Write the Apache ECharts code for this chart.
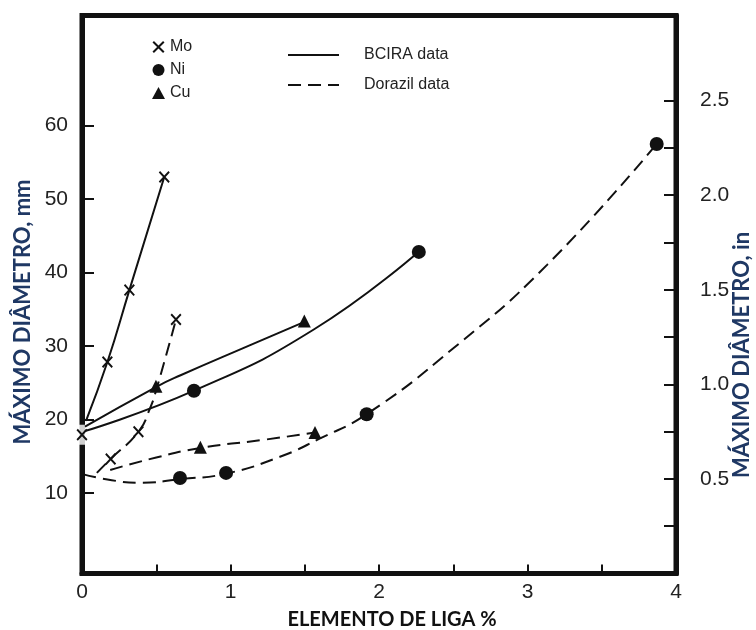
<!DOCTYPE html>
<html>
<head>
<meta charset="utf-8">
<script src="https://cdn.jsdelivr.net/npm/echarts@6/dist/echarts.min.js"></script>
<style>
  html, body { margin: 0; padding: 0; background: #ffffff; }
  #chart { width: 756px; height: 630px; }
</style>
</head>
<body>
<div id="chart"></div>
<script>
// ---------------- DATA ----------------
// Marker points (alloying element %, maximum diameter mm)
const moBaseX = [0];
const moBaseY = [17.9];
const moBciraX = [0.171, 0.319, 0.554];
const moBciraY = [27.8, 37.6, 53.0];
const moDorazilX = [0.193, 0.38, 0.633];
const moDorazilY = [14.6, 18.3, 33.6];
const niBciraX = [0.754, 2.268];
const niBciraY = [23.9, 42.8];
const niDorazilX = [0.66, 0.97, 1.917, 3.87];
const niDorazilY = [12.0, 12.7, 20.7, 57.5];
const cuBciraX = [0.498, 1.497];
const cuBciraY = [24.5, 33.4];
const cuDorazilX = [0.797, 1.569];
const cuDorazilY = [16.2, 18.2];

// Fitted curves
const moBciraCurveX = [0.027, 0.171, 0.319, 0.554];
const moBciraCurveY = [19.8, 27.8, 37.6, 53.0];
const cuBciraCurveX = [0.02, 0.498, 0.664, 1.109, 1.49];
const cuBciraCurveY = [19.0, 24.4, 26.0, 29.9, 33.2];
const niBciraCurveX = [0.02, 0.754, 1.558, 2.265];
const niBciraCurveY = [18.4, 23.9, 32.2, 42.8];
const moDorazilCurveX = [0.1, 0.193, 0.38, 0.458, 0.5, 0.633];
const moDorazilCurveY = [12.7, 14.6, 18.3, 21.5, 24.0, 33.6];
const cuDorazilCurveX = [0.19, 0.5, 0.797, 1.221, 1.569];
const cuDorazilCurveY = [13.1, 14.8, 16.1, 17.2, 18.2];
const niDorazilCurveX = [0.01, 0.2, 0.4, 0.66, 0.97, 1.333, 1.603, 1.917, 2.49, 3.13, 3.87];
const niDorazilCurveY = [12.5, 11.7, 11.35, 11.85, 12.6, 14.9, 17.4, 20.7, 29.5, 41.0, 57.5];

// Axis ticks / labels
const xTickLabels = [0, 1, 2, 3, 4];
const mmTicks = [10, 20, 30, 40, 50, 60];
const inTicks = [0.25, 0.5, 0.75, 1.0, 1.25, 1.5, 1.75, 2.0, 2.25, 2.5];
const inLabels = [0.5, 1.0, 1.5, 2.0, 2.5];

const markerNames = ['Mo', 'Ni', 'Cu'];
const sourceNames = ['BCIRA data', 'Dorazil data'];
const xTitle = 'ELEMENTO DE LIGA %';
const yTitleLeft = 'MÁXIMO DIÂMETRO, mm';
const yTitleRight = 'MÁXIMO DIÂMETRO, in';
// ------------------------------------------------------------------------

function zip(xs, ys) { return xs.map((x, i) => [x, ys[i]]); }

const X_PATH = 'path://M0,1.2L1.2,0L5,3.8L8.8,0L10,1.2L6.2,5L10,8.8L8.8,10L5,6.2L1.2,10L0,8.8L3.8,5Z';
const INK = '#111111';
const labelFont = 'Liberation Sans';

function curve(name, xs, ys, dashed) {
  return {
    name: name, type: 'line', yAxisIndex: 0,
    data: zip(xs, ys), symbol: 'none', smooth: 0.5,
    silent: true, z: 2,
    lineStyle: { color: INK, width: 2, type: dashed ? [13, 7] : 'solid' },
    itemStyle: { color: INK }
  };
}

const chart = echarts.init(document.getElementById('chart'), null, { renderer: 'canvas' });

const option = {
  backgroundColor: '#ffffff',
  animation: false,
  grid: { left: 82, right: 80, top: 15.5, bottom: 56.5, show: true, borderColor: INK, borderWidth: 5, backgroundColor: 'transparent' },
  legend: [
    {
      data: markerNames, orient: 'vertical', left: 147, top: 34,
      itemWidth: 13, itemHeight: 12, itemGap: 7,
      textStyle: { fontFamily: labelFont, fontSize: 16, color: '#222' }
    },
    {
      data: sourceNames, orient: 'vertical', left: 282, top: 42,
      itemWidth: 51, itemHeight: 12, itemGap: 14,
      itemStyle: { opacity: 0, borderWidth: 0 },
      lineStyle: { width: 2 },
      textStyle: { fontFamily: labelFont, fontSize: 16, color: '#222', padding: [0, 0, 0, 20] }
    }
  ],
  xAxis: {
    type: 'value', min: 0, max: 4, interval: 0.5,
    axisLine: { show: true, onZero: false, lineStyle: { color: INK, width: 5 } },
    axisTick: { show: true, inside: true, length: 9, lineStyle: { color: INK, width: 2 } },
    axisLabel: {
      margin: 8, fontFamily: labelFont, fontSize: 21, color: '#222',
      formatter: v => (xTickLabels.indexOf(v) >= 0 ? String(v) : '')
    },
    splitLine: { show: false }
  },
  yAxis: [
    {
      type: 'value', min: -1, max: 75, position: 'left',
      axisLine: { show: true, onZero: false, lineStyle: { color: INK, width: 5 } },
      axisTick: { show: true, inside: true, length: 12, customValues: mmTicks, lineStyle: { color: INK, width: 2 } },
      axisLabel: { margin: 14, customValues: mmTicks, fontFamily: labelFont, fontSize: 21, color: '#222' },
      splitLine: { show: false }
    },
    {
      type: 'value', min: 0, max: 2.95, position: 'right',
      axisLine: { show: true, onZero: false, lineStyle: { color: INK, width: 5 } },
      axisTick: { show: true, inside: true, length: 12, customValues: inTicks, lineStyle: { color: INK, width: 2 } },
      axisLabel: { margin: 24, customValues: inLabels, fontFamily: labelFont, fontSize: 21, color: '#222', formatter: v => v.toFixed(1) },
      splitLine: { show: false }
    }
  ],
  series: [
    // white patch behind the Mo base point on the left axis
    {
      name: 'base-patch', type: 'scatter', data: zip(moBaseX, moBaseY),
      symbol: 'rect', symbolSize: [12, 20], silent: true, z: 1,
      itemStyle: { color: '#ffffff' }
    },
    curve('BCIRA data', moBciraCurveX, moBciraCurveY, false),
    curve('BCIRA data', cuBciraCurveX, cuBciraCurveY, false),
    curve('BCIRA data', niBciraCurveX, niBciraCurveY, false),
    curve('Dorazil data', moDorazilCurveX, moDorazilCurveY, true),
    curve('Dorazil data', cuDorazilCurveX, cuDorazilCurveY, true),
    curve('Dorazil data', niDorazilCurveX, niDorazilCurveY, true),
    {
      name: 'Mo', type: 'scatter', z: 3, symbol: X_PATH, symbolSize: [11, 12], symbolKeepAspect: true,
      data: zip(moBaseX, moBaseY).concat(zip(moBciraX, moBciraY), zip(moDorazilX, moDorazilY)),
      itemStyle: { color: INK, opacity: 1 }
    },
    {
      name: 'Ni', type: 'scatter', z: 3, symbol: 'circle', symbolSize: 14,
      data: zip(niBciraX, niBciraY).concat(zip(niDorazilX, niDorazilY)),
      itemStyle: { color: INK, opacity: 1 }
    },
    {
      name: 'Cu', type: 'scatter', z: 3, symbol: 'triangle', symbolSize: 13,
      data: zip(cuBciraX, cuBciraY).concat(zip(cuDorazilX, cuDorazilY)),
      itemStyle: { color: INK, opacity: 1 }
    }
  ],
  graphic: [
    {
      type: 'text', x: 392, y: 620, silent: true,
      style: { text: xTitle, fontFamily: 'Lato', fontWeight: 'bold', fontSize: 20, fill: INK, align: 'center', verticalAlign: 'middle',
        textShadowColor: 'rgba(200,120,40,0.6)', textShadowOffsetY: 1 }
    },
    {
      type: 'text', x: 23, y: 312, rotation: Math.PI / 2, silent: true,
      style: { text: yTitleLeft, fontFamily: 'Lato', fontWeight: 'bold', fontSize: 22, fill: '#1f3864', align: 'center', verticalAlign: 'middle',
        textShadowColor: '#e69138', textShadowOffsetX: 1.2, textShadowOffsetY: 0.5 }
    },
    {
      type: 'text', x: 742, y: 355, rotation: Math.PI / 2, silent: true,
      style: { text: yTitleRight, fontFamily: 'Lato', fontWeight: 'bold', fontSize: 22, fill: '#1f3864', align: 'center', verticalAlign: 'middle',
        textShadowColor: '#e69138', textShadowOffsetX: 1.2, textShadowOffsetY: 0.5 }
    }
  ]
};

chart.setOption(option);
</script>
</body>
</html>
